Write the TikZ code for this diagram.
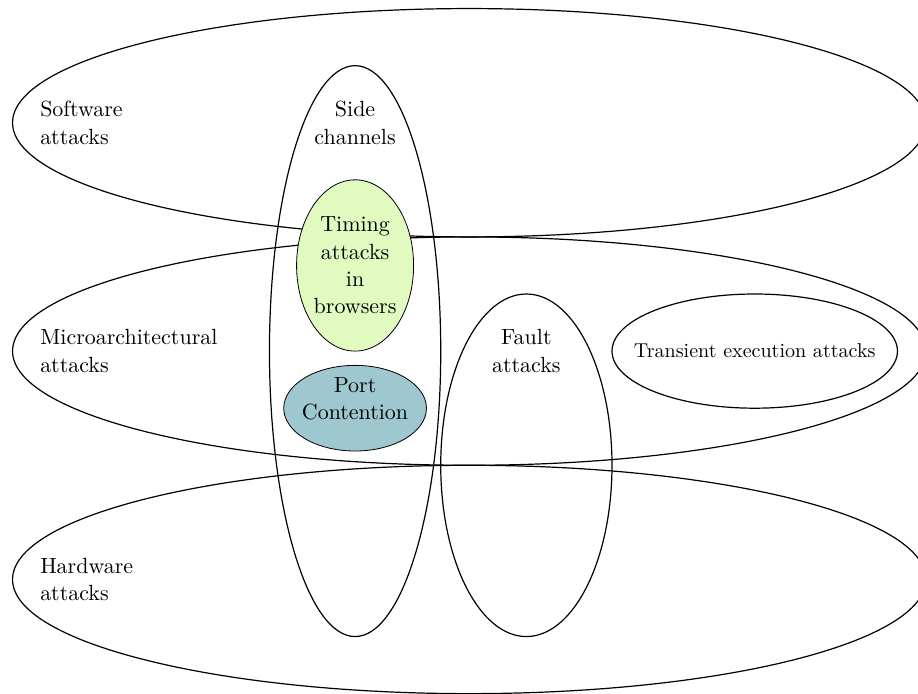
\documentclass[11pt,tikz,border=0pt]{standalone}
\usepackage{xcolor}
\usetikzlibrary{shapes.geometric}

\definecolor{timingfill}{RGB}{224,250,192}
\definecolor{portfill}{RGB}{158,199,207}

\tikzset{
  ring/.style={draw,ellipse,semithick,inner sep=0pt},
  blob/.style={draw,ellipse,thin,inner sep=0pt,align=center},
  tag/.style={align=left,anchor=west}
}

\begin{document}
\begin{tikzpicture}
\useasboundingbox (-6.22,-6.0) rectangle (9.86,6.15);
\draw (2,4) node[ring,minimum width=16cm,minimum height=4cm](software) {};
\draw (2,0) node[ring,minimum width=16cm,minimum height=4cm](micro) {};
\draw (2,-4) node[ring,minimum width=16cm,minimum height=4cm](hardware) {};
\draw (0,0) node[ring,minimum width=3cm,minimum height=10cm](side) {};
\draw (3,-2) node[ring,minimum width=3cm,minimum height=6cm](fault) {};
\draw (7,0) node[ring,minimum width=5cm,minimum height=2cm](transient) {};
\draw (0,1.5) node[blob,fill=timingfill,minimum width=2cm,minimum height=3cm](timing) {Timing\\attacks\\in\\browsers};
\draw (0,-1) node[blob,fill=portfill,minimum width=2.5cm,minimum height=1.5cm](port) {};
\draw (0,-0.84) node[align=center](porttext) {Port\\Contention};
\draw (-5.65,4) node[tag](softwaretext) {Software\\attacks};
\draw (-5.65,0) node[tag](microtext) {Microarchitectural\\attacks};
\draw (-5.65,-4) node[tag](hardwaretext) {Hardware\\attacks};
\draw (0,4) node[align=center](sidetext) {Side\\channels};
\draw (3,0) node[align=center](faulttext) {Fault\\attacks};
\draw (7,0) node[font=\small](transienttext) {Transient execution attacks};
\end{tikzpicture}
\end{document}
